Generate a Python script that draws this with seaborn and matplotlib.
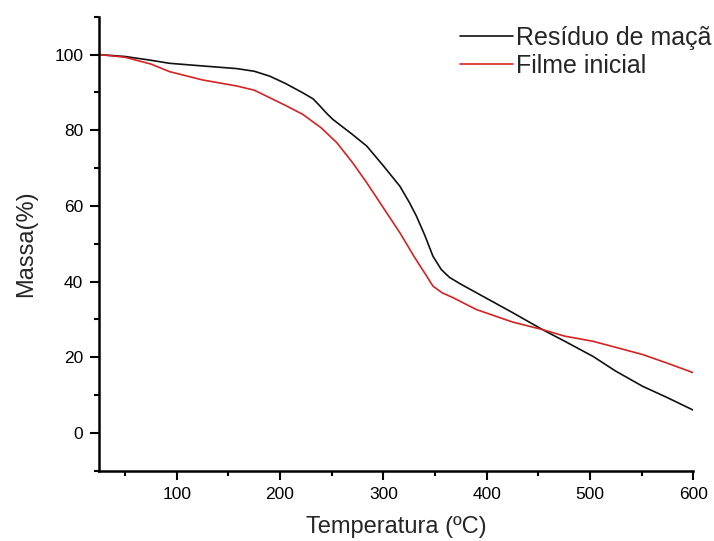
import matplotlib
matplotlib.use("Agg")
import matplotlib.pyplot as plt
from matplotlib.ticker import MultipleLocator
import seaborn as sns
import pandas as pd

# TGA curves
temp_residuo = [25, 50, 75, 93, 125, 158, 175, 190, 205, 222, 232, 238, 245, 251, 260,
                270, 284, 300, 316, 325, 332, 340, 348, 356, 364, 375, 393, 425, 454,
                475, 503, 525, 551, 575, 600]
massa_residuo = [100, 99.5, 98.5, 97.7, 97.0, 96.3, 95.6, 94.3, 92.4, 89.9, 88.3, 86.6, 84.5,
                 82.9, 81.0, 78.9, 75.8, 70.6, 65.2, 61.0, 57.3, 52.3, 46.7, 43.2, 41.1,
                 39.3, 36.6, 31.8, 27.3, 24.3, 20.2, 16.3, 12.3, 9.3, 6.0]

temp_filme = [25, 50, 75, 93, 125, 158, 175, 190, 205, 222, 240, 255, 270, 284, 300, 316,
              330, 342, 348, 357, 367, 390, 425, 454, 475, 503, 525, 551, 575, 600]
massa_filme = [100, 99.3, 97.5, 95.5, 93.3, 91.7, 90.6, 88.6, 86.6, 84.2, 80.6, 76.7, 71.5,
               66.1, 59.5, 52.9, 46.5, 41.4, 38.8, 37.0, 35.8, 32.6, 29.3, 27.3, 25.6, 24.2,
               22.6, 20.7, 18.4, 15.9]

labels = ["Resíduo de maçã", "Filme inicial"]
colors = ["#111111", "#d62222"]

df = pd.concat([
    pd.DataFrame({"Temperatura": temp_residuo, "Massa": massa_residuo, "Amostra": labels[0]}),
    pd.DataFrame({"Temperatura": temp_filme, "Massa": massa_filme, "Amostra": labels[1]}),
])

sns.set_theme(style="ticks")
plt.rcParams["font.family"] = ["Liberation Sans", "DejaVu Sans"]

fig = plt.figure(figsize=(7.14, 5.41), dpi=100)
ax = fig.add_axes([0.139, 0.130, 0.832, 0.839])

sns.lineplot(data=df, x="Temperatura", y="Massa", hue="Amostra", sort=False,
             palette=colors, linewidth=1.2, ax=ax, legend=True)

ax.set_xlim(25, 600)
ax.set_ylim(-10, 110)
ax.xaxis.set_major_locator(MultipleLocator(100))
ax.xaxis.set_minor_locator(MultipleLocator(50))
ax.yaxis.set_major_locator(MultipleLocator(20))
ax.yaxis.set_minor_locator(MultipleLocator(10))
ax.set_yticks([0, 20, 40, 60, 80, 100])

sns.despine(ax=ax)
for s in ["left", "bottom"]:
    ax.spines[s].set_linewidth(1.8)
    ax.spines[s].set_color("black")
ax.tick_params(which="major", direction="out", length=6.5, width=1.5, labelsize=12.5,
               colors="black", pad=5)
ax.tick_params(which="minor", direction="out", length=3.8, width=1.5, colors="black")

ax.set_xlabel("Temperatura (ºC)", fontsize=17, labelpad=10)
ax.set_ylabel("Massa(%)", fontsize=17, labelpad=12)

handles, _ = ax.get_legend_handles_labels()
ax.legend(handles=handles, labels=labels, loc="upper right",
          bbox_to_anchor=(0.997, 1 - 26 / 541), bbox_transform=fig.transFigure,
          frameon=False, fontsize=18, handlelength=2.1, handletextpad=0.15,
          labelspacing=0.15, borderpad=0, borderaxespad=0)

fig.savefig("out.png", dpi=100, facecolor="white")
